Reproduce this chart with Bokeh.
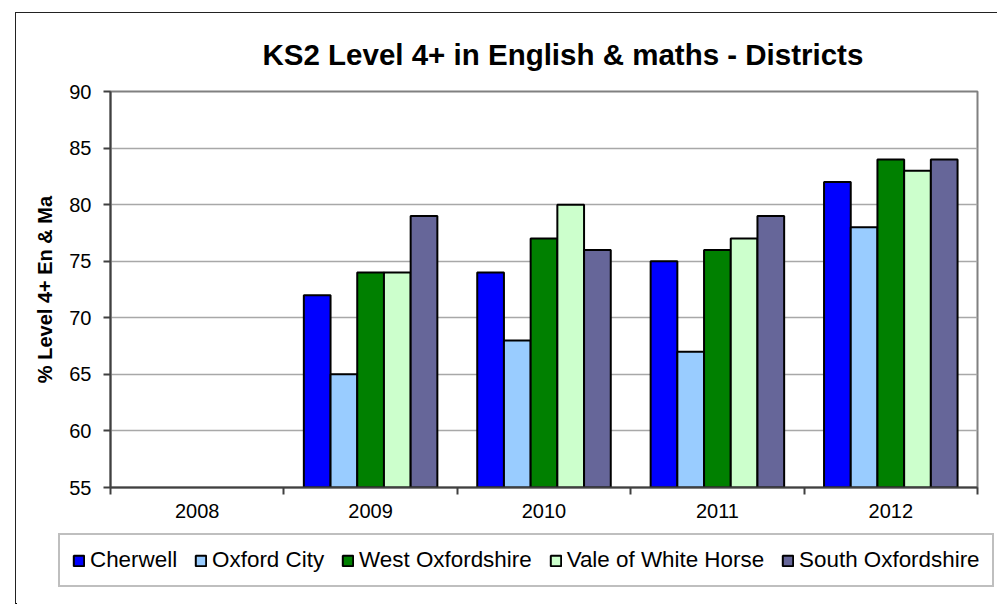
from bokeh.plotting import figure
from bokeh.layouts import column
from bokeh.models import ColumnDataSource, FixedTicker, Range1d, Legend, LegendItem
from bokeh.transform import dodge
from bokeh.embed import file_html
from bokeh.resources import INLINE

# ---- data ----
years = ["2008", "2009", "2010", "2011", "2012"]
nan = float("nan")
cherwell = [nan, 72, 74, 75, 82]
oxford_city = [nan, 65, 68, 67, 78]
west_oxfordshire = [nan, 74, 77, 76, 84]
vale_of_white_horse = [nan, 74, 80, 77, 83]
south_oxfordshire = [nan, 79, 76, 79, 84]
series_names = ["Cherwell", "Oxford City", "West Oxfordshire", "Vale of White Horse", "South Oxfordshire"]
series_values = [cherwell, oxford_city, west_oxfordshire, vale_of_white_horse, south_oxfordshire]
series_colors = ["#0000FF", "#99CCFF", "#008000", "#CCFFCC", "#666699"]
y_ticks = [55, 60, 65, 70, 75, 80, 85, 90]

FONT = "Liberation Sans"

xs = list(range(len(years)))
data = {"x": xs}
keys = []
for i, vals in enumerate(series_values):
    k = "s%d" % i
    keys.append(k)
    data[k] = vals
source = ColumnDataSource(data)

W = 981
p = figure(width=W, height=517, output_backend="svg", toolbar_location=None,
           x_range=Range1d(-0.5, len(years) - 0.5), y_range=Range1d(y_ticks[0], y_ticks[-1]),
           min_border_left=94, min_border_right=20, min_border_top=78, min_border_bottom=43)
p.frame_align = False

p.background_fill_color = "white"
p.border_fill_color = "white"
p.outline_line_color = "#808080"
p.outline_line_width = 2

# title
p.title.text = "KS2 Level 4+ in English & maths - Districts"
p.title.text_font = FONT
p.title.text_font_size = "29.5px"
p.title.text_font_style = "bold"
p.title.text_color = "black"
p.title.align = "left"
p.title.offset = 152
p.title.standoff = 42

bw = 0.154
n = len(series_names)
for i, (k, c) in enumerate(zip(keys, series_colors)):
    off = (i - (n - 1) / 2) * bw
    p.vbar(x=dodge("x", off, range=p.x_range), top=k, width=bw, bottom=0, source=source,
           fill_color=c, line_color="black", line_width=2)

# axes
xa = p.xaxis[0]
xa.ticker = FixedTicker(ticks=xs, minor_ticks=[i - 0.5 for i in range(len(years) + 1)])
xa.major_label_overrides = {i: y for i, y in zip(xs, years)}
xa.major_tick_line_color = None
xa.major_tick_out = 0
xa.major_tick_in = 0
xa.minor_tick_line_color = "#404040"
xa.minor_tick_line_width = 2
xa.minor_tick_out = 7
xa.minor_tick_in = 0
xa.axis_line_color = "#404040"
xa.axis_line_width = 2
xa.major_label_text_font = FONT
xa.major_label_text_font_size = "20px"
xa.major_label_text_color = "black"
xa.major_label_standoff = 9

ya = p.yaxis[0]
ya.ticker = FixedTicker(ticks=y_ticks)
ya.minor_tick_line_color = None
ya.major_tick_line_color = "#404040"
ya.major_tick_line_width = 2
ya.major_tick_out = 7
ya.major_tick_in = 0
ya.axis_line_color = "#404040"
ya.axis_line_width = 2
ya.major_label_text_font = FONT
ya.major_label_text_font_size = "20px"
ya.major_label_text_color = "black"
ya.major_label_standoff = 12
ya.axis_label = "% Level 4+ En & Ma"
ya.axis_label_text_font = FONT
ya.axis_label_text_font_size = "20px"
ya.axis_label_text_font_style = "bold"
ya.axis_label_text_color = "black"
ya.axis_label_standoff = 10

p.xgrid.grid_line_color = None
p.ygrid.grid_line_color = "#a8a8a8"
p.ygrid.grid_line_width = 1.5

# ---- legend strip (same series, kept far out of view; only the legend shows) ----
p2 = figure(width=W, height=74, output_backend="svg", toolbar_location=None,
            x_range=Range1d(1000, 1001), y_range=Range1d(1000, 1001),
            x_axis_type=None, y_axis_type=None,
            min_border_left=0, min_border_right=0, min_border_top=0, min_border_bottom=0)
p2.frame_align = False
p2.outline_line_color = None
p2.background_fill_color = "white"
p2.border_fill_color = "white"
p2.grid.visible = False
items = []
for nm, k, c in zip(series_names, keys, series_colors):
    r = p2.vbar(x="x", top=k, width=bw, bottom=0, source=source,
                fill_color=c, line_color="black", line_width=2)
    items.append(LegendItem(label=nm, renderers=[r]))

legend = Legend(items=items, orientation="horizontal", location=(42, 17))
legend.label_text_font = FONT
legend.label_text_font_size = "22.4px"
legend.label_text_color = "black"
legend.glyph_width = 13
legend.glyph_height = 13
legend.label_standoff = 5
legend.spacing = 17
legend.padding = 12
legend.label_height = 24
legend.margin = 0
legend.border_line_color = "#808080"
legend.border_line_width = 2
legend.background_fill_color = "white"
legend.background_fill_alpha = 1
p2.add_layout(legend, "center")

layout = column(p, p2, spacing=0)
layout.margin = (12, 0, 0, 15)
layout.styles = {"border-left": "1.5px solid #222222", "border-top": "1.5px solid #222222",
                 "overflow": "hidden"}

open("out.html", "w").write(file_html(layout, INLINE))
